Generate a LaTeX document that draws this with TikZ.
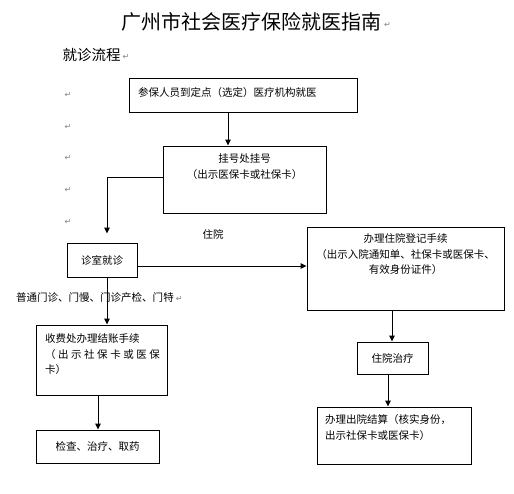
\documentclass[tikz,border=0pt]{standalone}
\usepackage{fontspec}
\setmainfont{Noto Sans CJK SC}
\newfontfamily\retfont{DejaVu Sans}
\usetikzlibrary{arrows.meta, positioning}

\tikzset{
  box/.style={draw, line width=1pt, inner sep=0pt},
  txt/.style={inner sep=0pt, font=\fontsize{10.5}{15.5}\selectfont},
  retmark/.style={inner sep=0pt, text=gray, font=\retfont\fontsize{8}{8}\selectfont}
}

\begin{document}
\begin{tikzpicture}[x=1pt, y=1pt, line width=1pt, >={Triangle[length=6pt,width=5.5pt]}]
        \useasboundingbox (0,0) rectangle (514,-493);

        % titles
        \node[inner sep=0pt, font=\fontsize{20}{22}\selectfont] (title) at (251,-22) {广州市社会医疗保险就医指南};
        \node[retmark, right=2pt of title.east, yshift=-3pt] (title-r) {↵};
        \node[inner sep=0pt, anchor=west, font=\fontsize{14.5}{16}\selectfont] (head) at (62,-55) {就诊流程};
        \node[retmark, right=1pt of head.east, yshift=-2pt] (head-r) {↵};

        % return marks on the left
        \foreach \y [count=\i] in {95,127,158,190,222}
          \node[retmark] (r\i) at (68,-\y) {↵};

        % boxes
        \node[box, minimum width=228, minimum height=34] (visit) at (243,-95) {};
        \node[txt, right=9pt of visit.west, yshift=2pt] (visit-t) {参保人员到定点（选定）医疗机构就医};

        \node[box, minimum width=163, minimum height=67] (reg) at (244.5,-179.5) {};
        \node[txt, align=center, below=8pt of reg.north] (reg-t) {挂号处挂号\\（出示医保卡或社保卡）};

        \node[box, txt, minimum width=70, minimum height=34] (clinic) at (102,-260) {诊室就诊};

        \node[box, minimum width=197, minimum height=83] (admit) at (405.5,-268.5) {};
        \node[txt, align=center, below=7pt of admit.north] (admit-t)
          {办理住院登记手续\\（出示入院通知单、社保卡或医保卡、\\有效身份证件）};

        \node[box, txt, minimum width=71, minimum height=32] (inpat) at (392.5,-358) {住院治疗};

        \node[box, minimum width=154, minimum height=57] (discharge) at (394,-435.5) {};
        \node[txt, align=left, below right=8pt and 8pt of discharge.north west] (discharge-t)
          {办理出院结算（核实身份，\\出示社保卡或医保卡）};

        \node[box, minimum width=131, minimum height=70] (pay) at (101.5,-360) {};
        \node[txt, align=left, below right=9pt and 9pt of pay.north west] (pay-t)
          {收费处办理结账手续\\\makebox[115pt][s]{（ 出 示 社 保 卡 或 医 保}\\卡）};

        \node[box, txt, minimum width=123, minimum height=33] (exam) at (97.5,-446.5) {检查、治疗、取药};

        % labels
        \node[txt] (hosp) at (213,-234) {住院};
        \node[txt] (outp) at (95,-298) {普通门诊、门慢、门诊产检、门特};
        \node[retmark, right=1pt of outp.east, yshift=-1pt] (outp-r) {↵};

        % connectors
        \draw[->] ([xshift=-15pt]visit.south) -- ([xshift=-15pt]visit.south |- reg.north);
        \draw[->, shorten >=9pt] ([yshift=2.5pt]reg.west) -| ([xshift=5pt]clinic.north);
        \draw[->] ([yshift=-6pt]clinic.east) -- ([yshift=-6pt]clinic.east -| admit.west);
        \draw[->] ([xshift=5pt]clinic.south) -- ([xshift=5pt]clinic.south |- pay.north);
        \draw[->] ([xshift=-3.5pt]pay.south) -- ([xshift=-3.5pt]pay.south |- exam.north);
        \draw[->] ([xshift=-13.5pt]admit.south) -- ([xshift=-13.5pt]admit.south |- inpat.north);
        \draw[->] ([xshift=-4.5pt]inpat.south) -- ([xshift=-4.5pt]inpat.south |- discharge.north);
\end{tikzpicture}
\end{document}
